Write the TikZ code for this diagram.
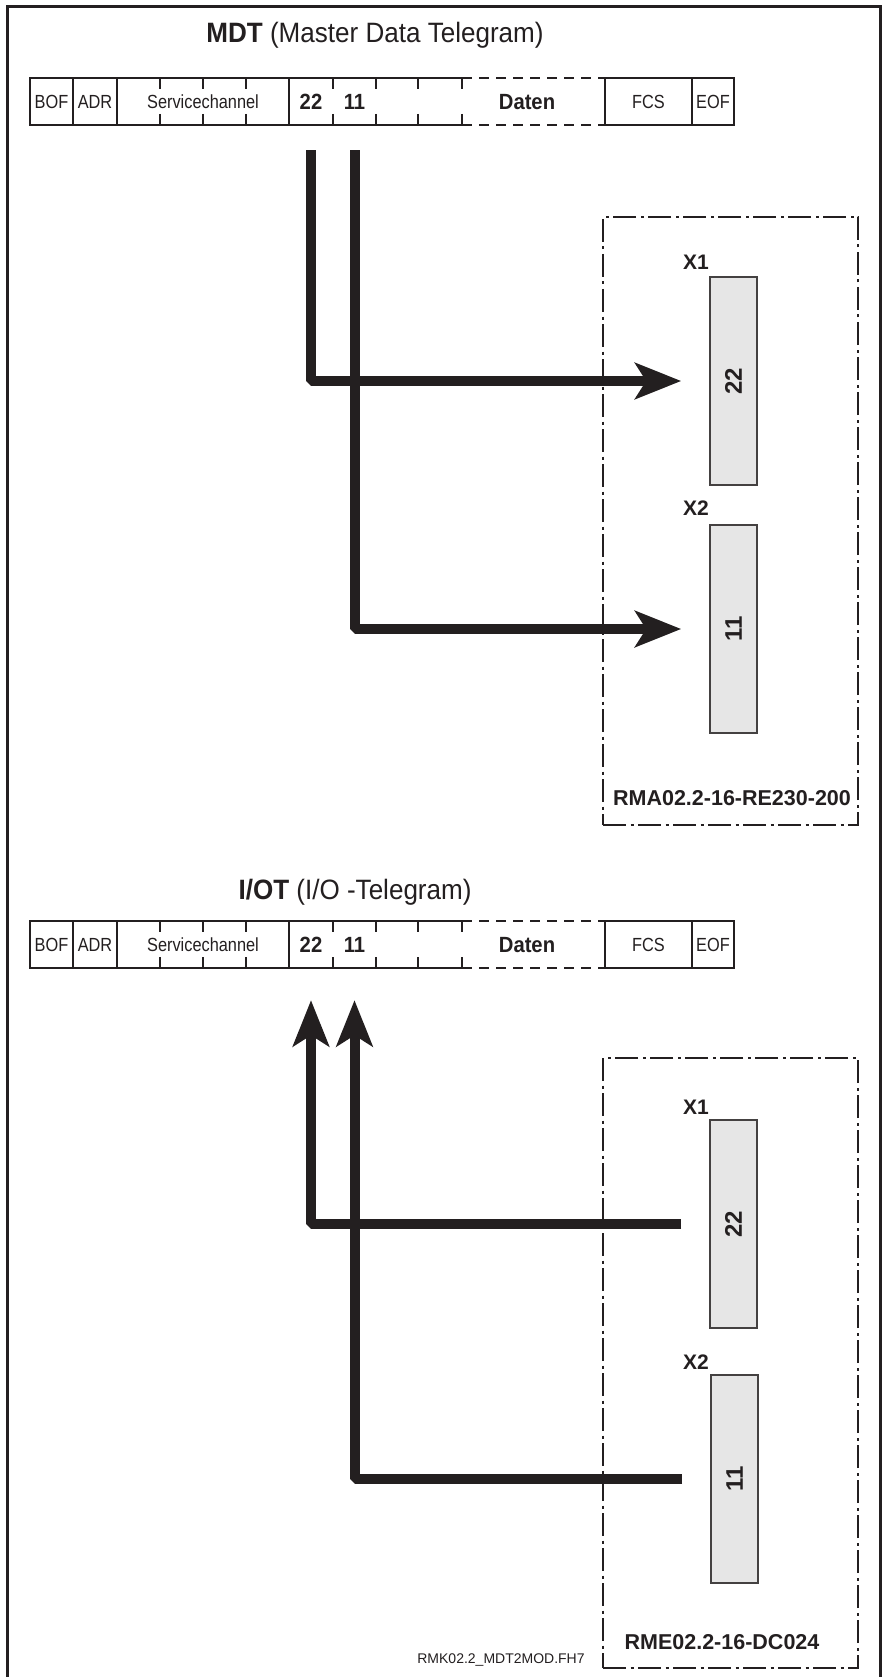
\documentclass[tikz,border=0pt]{standalone}
\usepackage{fontspec}
\setmainfont{Liberation Sans}
\newfontfamily\narrowf[FakeStretch=0.86]{Liberation Sans}
\newfontfamily\boldnf[FakeStretch=0.92]{Liberation Sans}
\newfontfamily\titlef[FakeStretch=0.93]{Liberation Sans}
\usetikzlibrary{arrows.meta}
\definecolor{ink}{HTML}{231F20}
\definecolor{connfill}{HTML}{E6E6E6}
\tikzset{
  tgline/.style={draw=ink, line width=2.2pt},
  tgsep/.style={draw=ink, line width=1.4pt},
  tgdash/.style={draw=ink, line width=2.2pt, dash pattern=on 10pt off 7pt},
  cellt/.style={font=\narrowf\fontsize{19}{21}\selectfont, inner sep=0pt, text height=13.5pt, text depth=0pt, text=ink},
  datt/.style={font=\boldnf\bfseries\fontsize{22}{24}\selectfont, inner sep=0pt, text height=16pt, text depth=0pt, text=ink},
  titlet/.style={font=\titlef\fontsize{28}{30}\selectfont, inner sep=0pt, text=ink},
  modbox/.style={draw=ink, line width=2.5pt, dash pattern=on 23pt off 4.5pt on 3pt off 4.5pt, inner sep=0pt},
  connbox/.style={draw=ink!85, fill=connfill, line width=1.6pt, inner sep=0pt, minimum width=47pt, minimum height=208pt},
  conntxt/.style={font=\bfseries\fontsize{24}{26}\selectfont, rotate=90, inner sep=0pt, text=ink},
  xlab/.style={font=\bfseries\fontsize{21}{24}\selectfont, inner sep=0pt, text=ink},
  modlab/.style={font=\bfseries\fontsize{21.5}{24}\selectfont, inner sep=0pt, text=ink},
  filet/.style={font=\fontsize{14}{16}\selectfont, inner sep=0pt, text=ink},
  bus/.style={draw=ink, line width=10pt, line join=bevel},
  arr/.style={-{Stealth[length=46pt,width=36pt,inset=11pt]}},
}
\newcommand{\mytelegram}[2]{%
\begin{scope}[shift={(0,#1)}]
  \draw[tgline] (462,0) -- (30,0) -- (30,47) -- (462,47);
  \draw[tgline] (605,0) -- (734,0) -- (734,47) -- (605,47) -- cycle;
  \draw[tgdash] (462,0) -- (605,0);
  \draw[tgdash] (462,47) -- (605,47);
  \foreach \x in {73,117,289,692} {\draw[tgsep] (\x,0) -- (\x,47);}
  \foreach \x in {160,203,246,333,376,418,462} {\draw[tgsep] (\x,0) -- (\x,11); \draw[tgsep] (\x,36) -- (\x,47);}
  \node[cellt] (#2bof) at (51.5,23.5) {BOF};
  \node[cellt] (#2adr) at (95,23.5) {ADR};
  \node[cellt] (#2sc) at (203,23.5) {Servicechannel};
  \node[datt, minimum width=44pt, minimum height=47pt] (#2c22) at (311,23.5) {22};
  \node[datt, minimum width=43pt, minimum height=47pt] (#2c11) at (354.5,23.5) {11};
  \node[datt] (#2daten) at (527,23.5) {Daten};
  \node[cellt] (#2fcs) at (648.5,23.5) {FCS};
  \node[cellt] (#2eof) at (713,23.5) {EOF};
\end{scope}}
\begin{document}
\begin{tikzpicture}[x=1pt,y=-1pt]
\useasboundingbox (0,0) rectangle (884,1677);
\fill[white] (0,0) rectangle (884,1677);
% outer frame (open at bottom)
\draw[draw=ink, line width=3pt] (7,1680) -- (7,7) -- (880,7) -- (880,1680);

% ---------- MDT ----------
\node[titlet, anchor=base] (t1) at (375,43) {\textbf{MDT} (Master Data Telegram)};
\mytelegram{78}{m-}

\node[modbox, minimum width=255pt, minimum height=608pt] (mod1) at (730.5,521) {};
\node[connbox] (m-x1) at (733.5,381) {};
\node[conntxt] (m-x1t) at (m-x1.center) {22};
\node[xlab] (m-x1l) at (696,262) {X1};
\node[connbox] (m-x2) at (733.5,629) {};
\node[conntxt] (m-x2t) at (m-x2.center) {11};
\node[xlab] (m-x2l) at (696,508) {X2};
\node[modlab] (mod1l) at (732,798) {RMA02.2-16-RE230-200};

\draw[bus, arr] ([yshift=-25pt]m-c22.south) |- ([xshift=-28pt]m-x1.west);
\draw[bus, arr] ([yshift=-25pt]m-c11.south) |- ([xshift=-28pt]m-x2.west);

% ---------- I/OT ----------
\node[titlet, anchor=base] (t2) at (355,899) {\textbf{I/OT} (I/O -Telegram)};
\mytelegram{921}{i-}

\node[modbox, minimum width=255pt, minimum height=610pt] (mod2) at (730.5,1363) {};
\node[connbox] (i-x1) at (733.5,1224) {};
\node[conntxt] (i-x1t) at (i-x1.center) {22};
\node[xlab] (i-x1l) at (696,1107) {X1};
\node[connbox] (i-x2) at (734.5,1479) {};
\node[conntxt] (i-x2t) at (i-x2.center) {11};
\node[xlab] (i-x2l) at (696,1362) {X2};
\node[modlab] (mod2l) at (722,1642) {RME02.2-16-DC024};

\draw[bus, arr] ([xshift=-28pt]i-x1.west) -| ([yshift=-32pt]i-c22.south);
\draw[bus, arr] ([xshift=-28pt]i-x2.west) -| ([yshift=-32pt]i-c11.south);

\node[filet] (file) at (501,1660) {RMK02.2\_MDT2MOD.FH7};
\end{tikzpicture}
\end{document}
